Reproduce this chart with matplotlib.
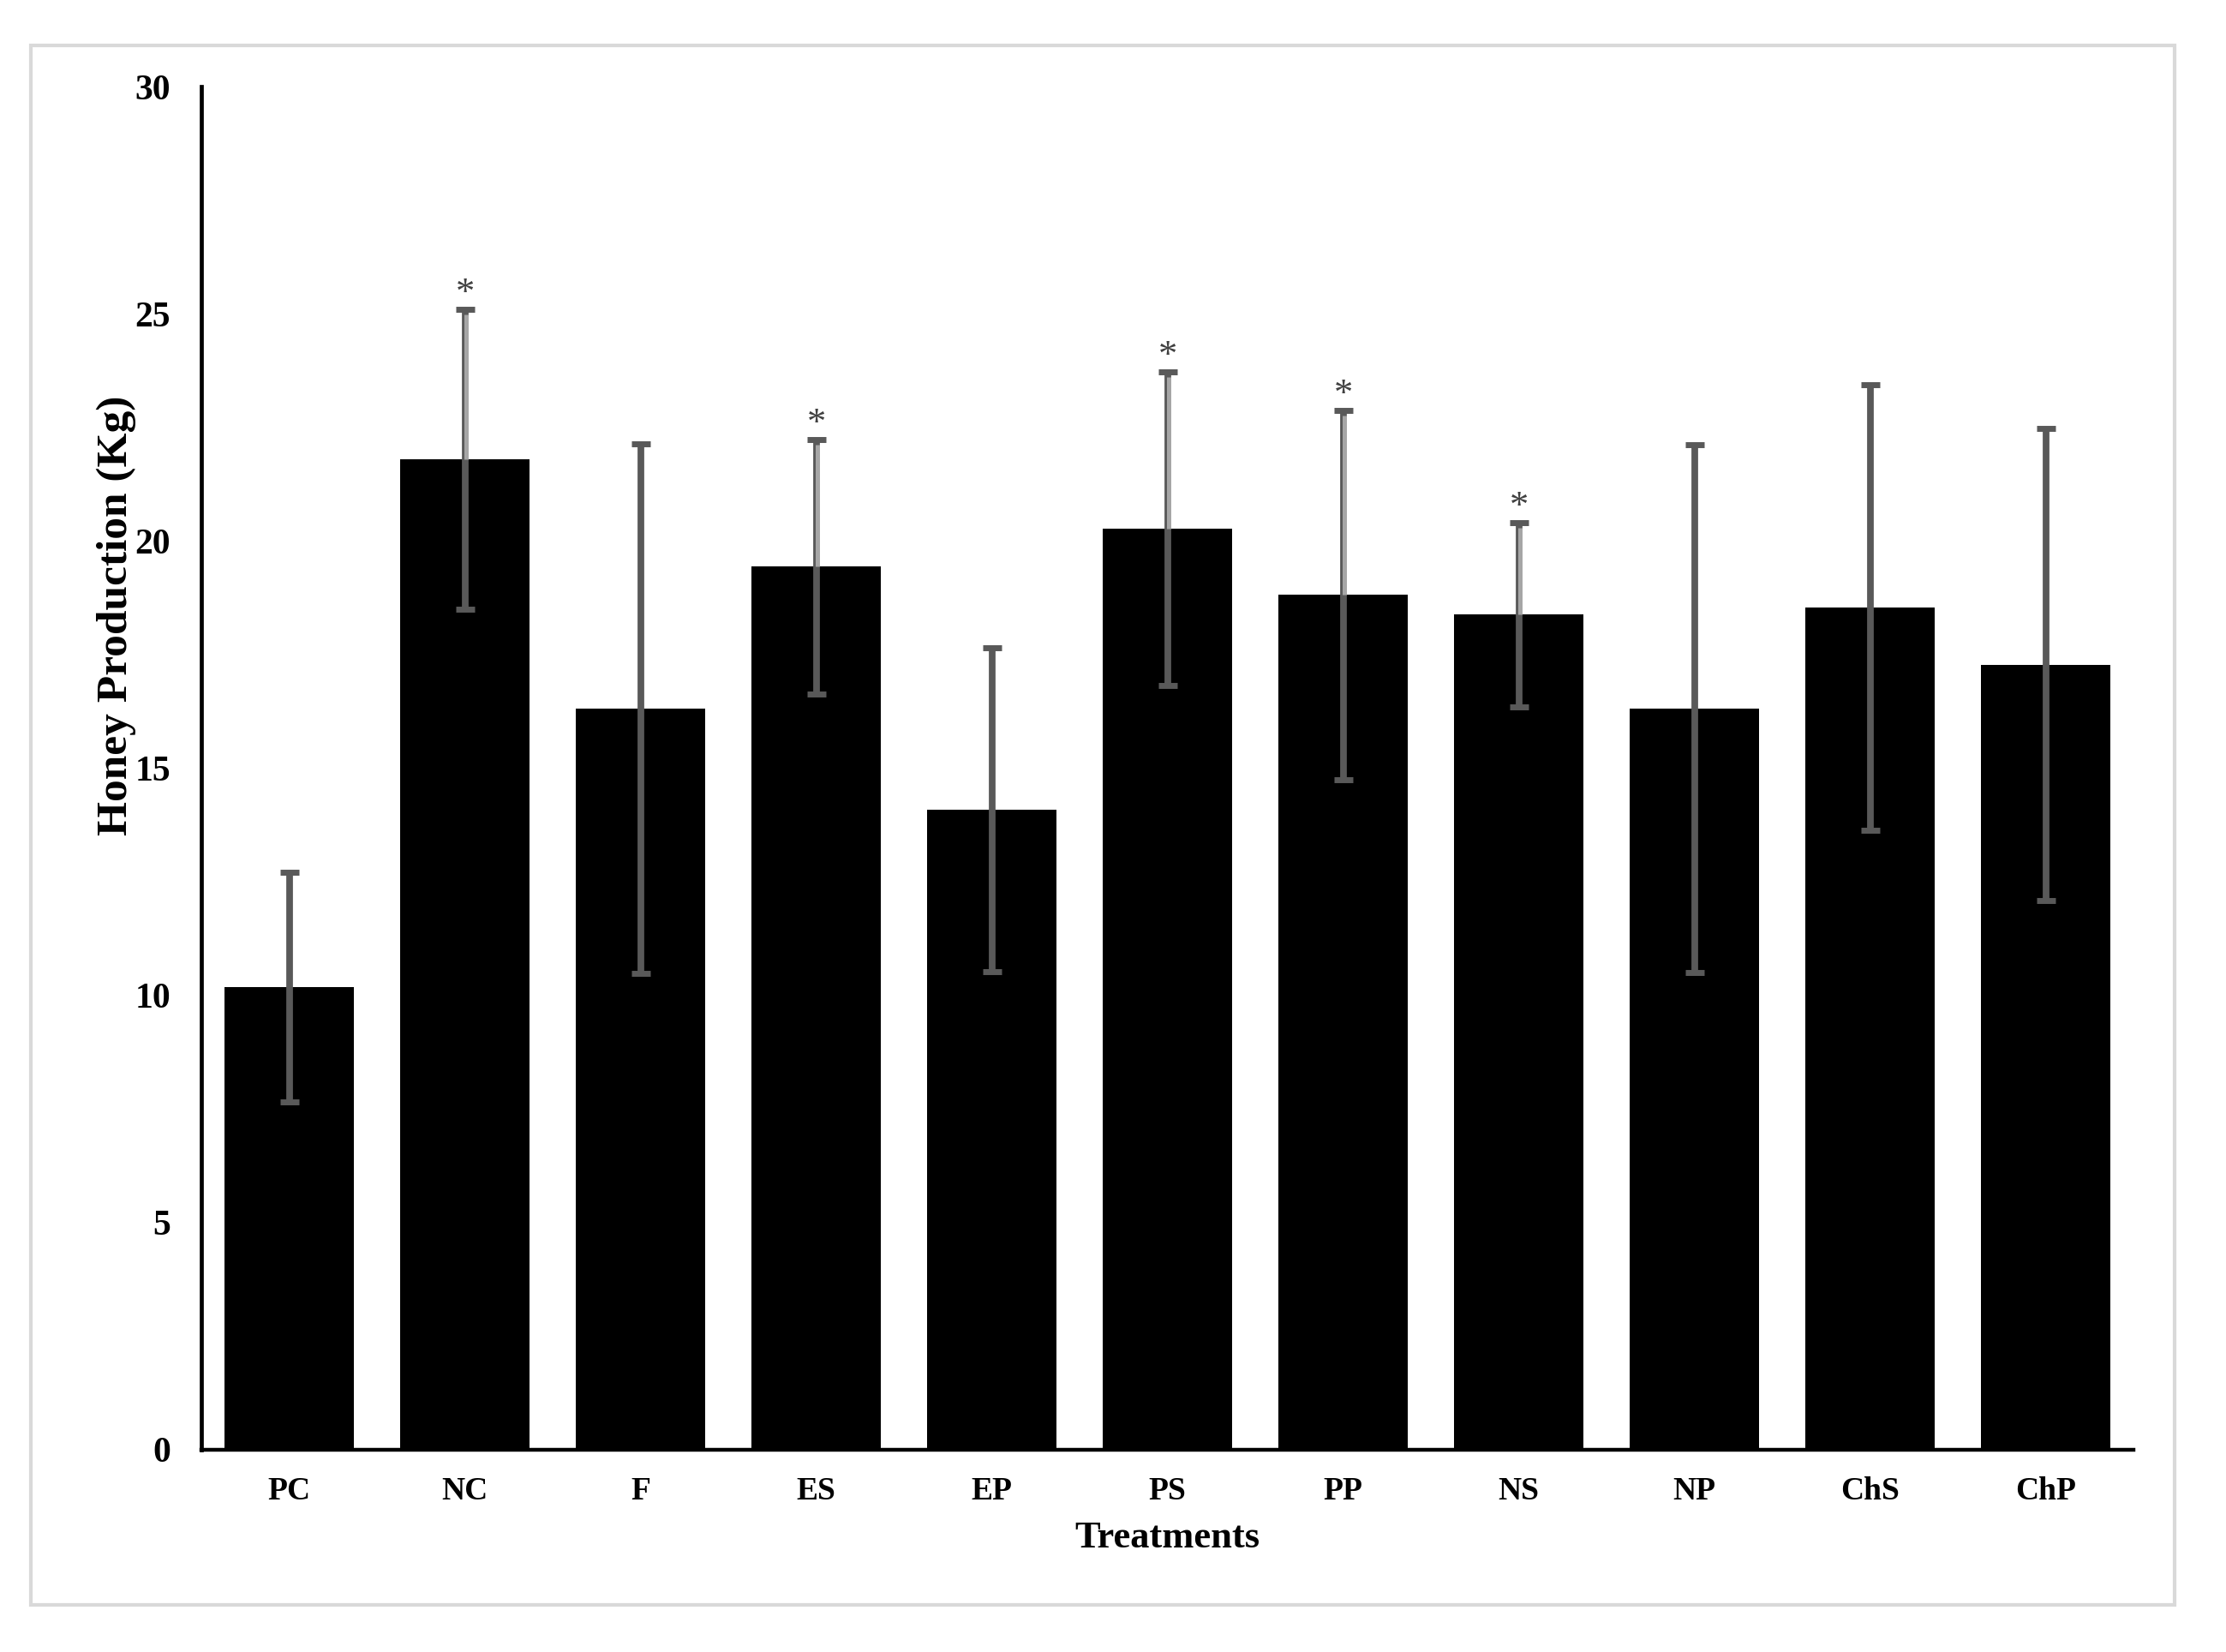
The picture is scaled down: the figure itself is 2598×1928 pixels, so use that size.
import matplotlib
matplotlib.use("Agg")
import matplotlib.pyplot as plt
from matplotlib.patches import Rectangle

# Honey production per treatment (mean and error)
treatments = ["PC", "NC", "F", "ES", "EP", "PS", "PP", "NS", "NP", "ChS", "ChP"]
honey_mean = [10.18, 21.80, 16.31, 19.44, 14.09, 20.27, 18.81, 18.38, 16.31, 18.53, 17.28]
honey_err = [2.52, 3.30, 5.83, 2.80, 3.56, 3.45, 4.07, 2.03, 5.80, 4.90, 5.20]
significant = ["NC", "ES", "PS", "PP", "NS"]
y_ticks = [0, 5, 10, 15, 20, 25, 30]

plt.rcParams["font.family"] = ["Liberation Serif", "DejaVu Serif"]
plt.rcParams["font.weight"] = "bold"

fig = plt.figure(figsize=(12.99, 9.64), dpi=200)

# light grey outer frame
fig.patches.append(Rectangle((36 / 2598, 1 - 1873 / 1928), (2538 - 36) / 2598, (1873 - 53) / 1928,
                             transform=fig.transFigure, fill=False, edgecolor="#D9D9D9", lw=1.5))

ax = fig.add_axes([235 / 2598, 1 - 1692 / 1928, (2490 - 235) / 2598, 1591 / 1928])

x = list(range(len(treatments)))
ax.bar(x, honey_mean, width=0.74, color="black", zorder=2)
ax.errorbar(x, honey_mean, yerr=honey_err, fmt="none", ecolor="#595959",
            elinewidth=2.8, capsize=4.1, capthick=2.5, zorder=3)

# lighter upper part of the error bars and stars for significant treatments
for i, t in enumerate(treatments):
    if t in significant:
        ax.vlines(i + 0.007, honey_mean[i], honey_mean[i] + honey_err[i] - 0.12,
                  color="#A6A6A6", lw=1.8, zorder=4)
        ax.annotate("*", (i, honey_mean[i] + honey_err[i]), xytext=(0, 2.5),
                    textcoords="offset points", ha="center", va="baseline",
                    fontsize=16, fontweight="normal", color="#404040")

ax.set_xlim(-0.5, len(treatments) - 0.5)
ax.set_ylim(0, 30)
ax.set_yticks(y_ticks)
ax.set_xticks(x)
ax.set_xticklabels(treatments, fontsize=13.5, fontweight="bold")
ax.set_yticklabels([str(v) for v in y_ticks], fontsize=15, fontweight="bold")
ax.tick_params(axis="y", length=0, pad=13)
ax.tick_params(axis="x", length=0, pad=11)

for s in ["top", "right"]:
    ax.spines[s].set_visible(False)
ax.spines["left"].set_linewidth(1.7)
ax.spines["bottom"].set_linewidth(1.6)

fig.text(1362 / 2598, 1 - 1795 / 1928, "Treatments", ha="center", va="center",
         fontsize=16, fontweight="bold")
fig.text(136 / 2598, 1 - 718 / 1928, "Honey Production (Kg)", ha="center", va="center",
         rotation=90, fontsize=18.5, fontweight="bold")

fig.savefig("out.png", dpi=200, facecolor="white")
